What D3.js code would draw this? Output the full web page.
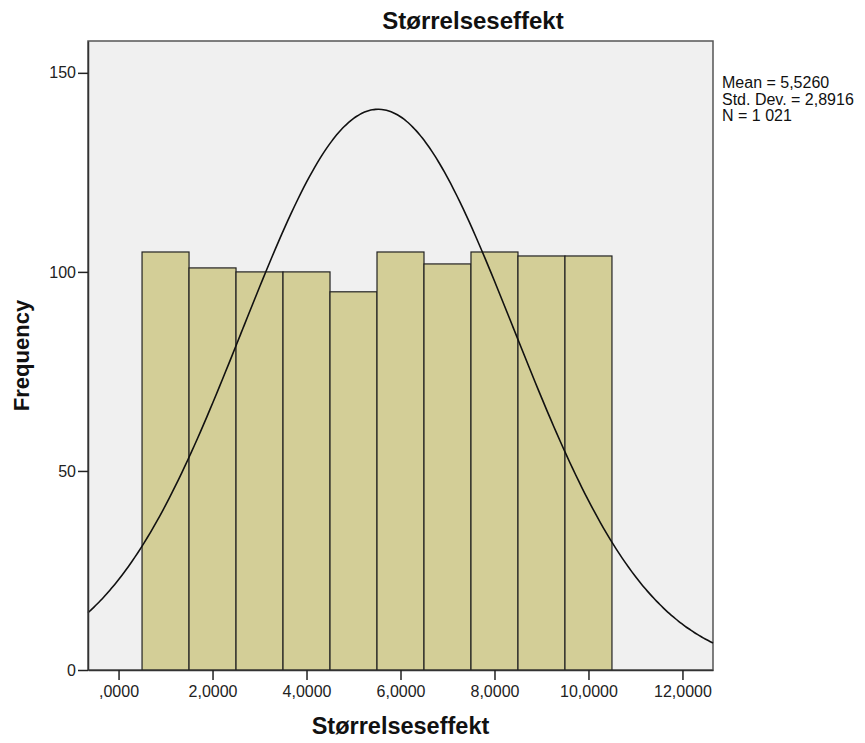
<!DOCTYPE html>
<html>
<head>
<meta charset="utf-8">
<script src="https://cdn.jsdelivr.net/npm/d3@7"></script>
<style>
  body { margin: 0; background: #fff; }
  text { font-family: "Liberation Sans", Arial, sans-serif; }
</style>
</head>
<body>
<svg id="chart" width="865" height="743"></svg>
<script>
// histogram bins (lower/upper edges) and counts
const binLower = [0.5, 1.5, 2.5, 3.5, 4.5, 5.5, 6.5, 7.5, 8.5, 9.5];
const binUpper = [1.5, 2.5, 3.5, 4.5, 5.5, 6.5, 7.5, 8.5, 9.5, 10.5];
const counts = [105, 101, 100, 100, 95, 105, 102, 105, 104, 104];

const xTicks = [0, 2, 4, 6, 8, 10, 12];
const xTickLabels = [",0000", "2,0000", "4,0000", "6,0000", "8,0000", "10,0000", "12,0000"];
const yTicks = [0, 50, 100, 150];

const mean = 5.526;
const sd = 2.8916;
const n = 1021;
const statLines = ["Mean = 5,5260", "Std. Dev. = 2,8916", "N = 1 021"];

const margin = { top: 41, right: 152, bottom: 73, left: 88 };
const W = 865, H = 743;
const width = W - margin.left - margin.right,
  height = H - margin.top - margin.bottom;

const svg = d3.select("#chart");
const g = svg.append("g").attr("transform", `translate(${margin.left},${margin.top})`);

const x = d3.scaleLinear().domain([-0.65, 12.65]).range([0, width]);
const y = d3.scaleLinear().domain([0, 158]).range([height, 0]);

// plot background
g.append("rect")
  .attr("width", width).attr("height", height)
  .attr("fill", "#f0f0f0")
  .attr("stroke", "#555").attr("stroke-width", 1.5);

// bars
const bins = counts.map((c, i) => ({ x0: binLower[i], x1: binUpper[i], n: c }));
g.selectAll(".bar")
  .data(bins)
  .join("rect")
  .attr("class", "bar")
  .attr("x", d => x(d.x0))
  .attr("y", d => y(d.n))
  .attr("width", d => x(d.x1) - x(d.x0))
  .attr("height", d => y(0) - y(d.n))
  .attr("fill", "#d3ce97")
  .attr("stroke", "#222")
  .attr("stroke-width", 1.2);

// fitted normal curve (from the stats above)
const binWidth = 1;
const pdf = v => n * binWidth * Math.exp(-0.5 * ((v - mean) / sd) ** 2) / (sd * Math.sqrt(2 * Math.PI));
const curvePts = d3.range(0, 201).map(i => {
  const v = x.domain()[0] + (x.domain()[1] - x.domain()[0]) * i / 200;
  return [v, pdf(v)];
});
g.append("path")
  .datum(curvePts)
  .attr("fill", "none")
  .attr("stroke", "#111")
  .attr("stroke-width", 1.6)
  .attr("d", d3.line().x(d => x(d[0])).y(d => y(d[1])).curve(d3.curveBasis));

// axes
const xAxis = g.append("g")
  .attr("transform", `translate(0,${height})`)
  .call(d3.axisBottom(x).tickValues(xTicks).tickSize(10).tickSizeOuter(0).tickPadding(6)
    .tickFormat((d, i) => xTickLabels[i]));
const yAxis = g.append("g")
  .call(d3.axisLeft(y).tickValues(yTicks).tickSize(10).tickSizeOuter(0).tickPadding(2));

[xAxis, yAxis].forEach(a => {
  a.select(".domain").attr("stroke", "#333").attr("stroke-width", 1.5);
  a.selectAll(".tick line").attr("stroke", "#222").attr("stroke-width", 1.5);
  a.selectAll(".tick text").attr("fill", "#222")
    .style("font-size", "16px");
});

// title
svg.append("text")
  .attr("x", 473).attr("y", 29)
  .attr("text-anchor", "middle")
  .style("font-size", "24px").style("font-weight", "bold")
  .attr("fill", "#111")
  .text("Størrelseseffekt");

// x label
svg.append("text")
  .attr("x", margin.left + width / 2).attr("y", 734)
  .attr("text-anchor", "middle")
  .style("font-size", "23.5px").style("font-weight", "bold")
  .attr("fill", "#111")
  .text("Størrelseseffekt");

// y label
svg.append("text")
  .attr("transform", `translate(29,${margin.top + height / 2}) rotate(-90)`)
  .attr("text-anchor", "middle")
  .style("font-size", "22px").style("font-weight", "bold")
  .attr("fill", "#111")
  .text("Frequency");

// stats box
svg.append("g")
  .selectAll("text")
  .data(statLines)
  .join("text")
  .attr("x", 722)
  .attr("y", (d, i) => 88 + i * 16.5)
  .style("font-size", "16px")
  .attr("fill", "#111")
  .text(d => d);
</script>
</body>
</html>
